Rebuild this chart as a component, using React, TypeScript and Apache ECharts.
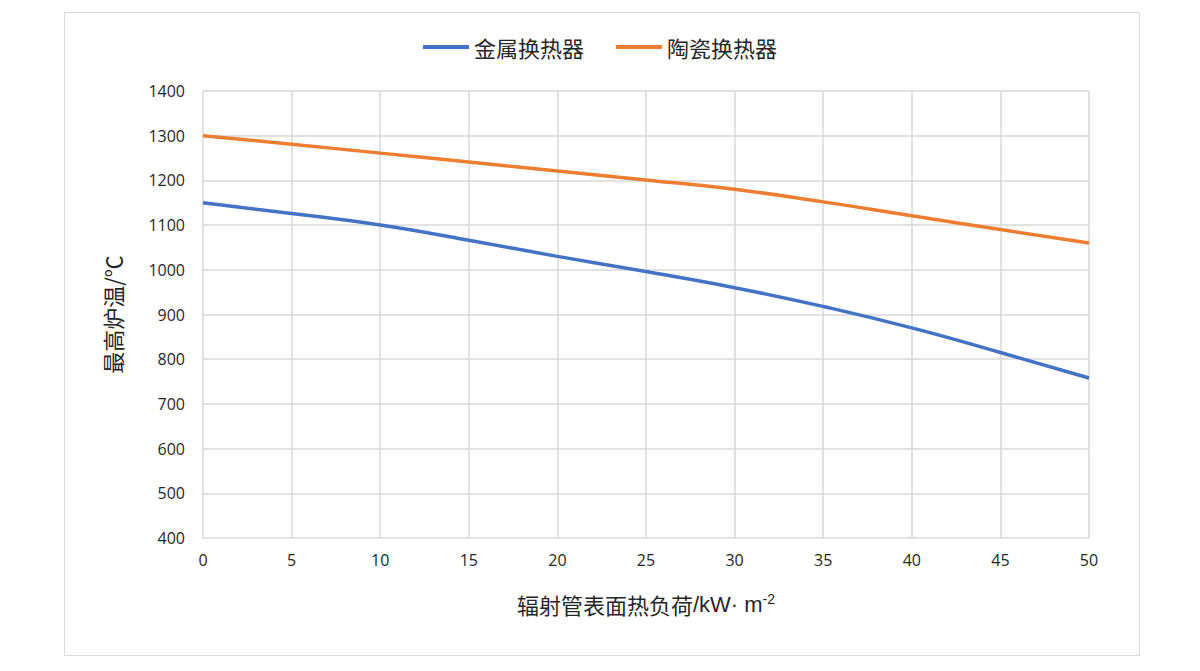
import React, { useEffect, useRef } from "react";
import * as echarts from "echarts";

const xValues = [0, 5, 10, 15, 20, 25, 30, 35, 40, 45, 50];
const metalSeries = [1150, 1126, 1100, 1066, 1030, 996, 960, 918, 870, 815, 758];
const ceramicSeries = [1300, 1281, 1261, 1241, 1221, 1201, 1180, 1152, 1121, 1090, 1060];
const seriesNames = ["金属换热器", "陶瓷换热器"];

export default function App() {
  const ref = useRef<HTMLDivElement>(null);
  useEffect(() => {
    document.body.style.margin = "0";
    const chart = echarts.init(ref.current!, null, { renderer: "svg" });
    const font = "'Noto Sans CJK SC', 'Noto Sans', sans-serif";
    const latin = "'Liberation Sans', Arial, sans-serif";
    chart.setOption({
      animation: false,
      backgroundColor: "#ffffff",
      graphic: [
        {
          type: "rect",
          shape: { x: 64.5, y: 12.5, width: 1075, height: 643 },
          style: { fill: "none", stroke: "#d9d9d9", lineWidth: 1 },
          silent: true,
        },
      ],
      legend: {
        top: 31,
        left: "center",
        itemWidth: 46,
        itemHeight: 4,
        itemGap: 32,
        icon: "rect",
        textStyle: { fontFamily: font, fontSize: 22, color: "#262626" },
        data: seriesNames,
      },
      grid: { left: 203, right: 111, top: 91, bottom: 133, containLabel: false },
      xAxis: {
        type: "value",
        min: 0,
        max: 50,
        interval: 5,
        name: "{a|辐射管表面热负荷}{b|/kW· m}{c|-2}",
        nameLocation: "middle",
        nameGap: 54,
        nameTextStyle: {
          rich: {
            a: { fontFamily: font, fontSize: 22, color: "#262626" },
            b: { fontFamily: latin, fontSize: 22, color: "#262626" },
            c: { fontFamily: latin, fontSize: 14, color: "#262626", verticalAlign: "top", padding: [0, 0, 10, 0] },
          },
        },
        axisLine: { show: false },
        axisTick: { show: false },
        axisLabel: { fontFamily: "'Open Sans', sans-serif", fontSize: 16, color: "#262626", margin: 14 },
        splitLine: { show: true, lineStyle: { color: "#d9d9d9", width: 1.5 } },
      },
      yAxis: {
        type: "value",
        min: 400,
        max: 1400,
        interval: 100,
        name: "最高炉温/℃",
        nameLocation: "middle",
        nameGap: 80,
        nameTextStyle: { fontFamily: font, fontSize: 22, color: "#262626" },
        axisLine: { show: false },
        axisTick: { show: false },
        axisLabel: {
          fontFamily: "'Open Sans', sans-serif",
          fontSize: 16,
          color: "#262626",
          margin: 18,
          formatter: (v: number) => String(v),
        },
        splitLine: { show: true, lineStyle: { color: "#d9d9d9", width: 1.5 } },
      },
      series: [
        {
          name: seriesNames[0],
          type: "line",
          smooth: true,
          showSymbol: false,
          symbol: "none",
          data: xValues.map((x, i) => [x, metalSeries[i]]),
          lineStyle: { color: "#4472c4", width: 3.5 },
          itemStyle: { color: "#4472c4" },
        },
        {
          name: seriesNames[1],
          type: "line",
          smooth: true,
          showSymbol: false,
          symbol: "none",
          data: xValues.map((x, i) => [x, ceramicSeries[i]]),
          lineStyle: { color: "#ed7d31", width: 3.5 },
          itemStyle: { color: "#ed7d31" },
        },
      ],
    });
    return () => chart.dispose();
  }, []);
  return <div ref={ref} style={{ width: 1200, height: 671 }} />;
}
